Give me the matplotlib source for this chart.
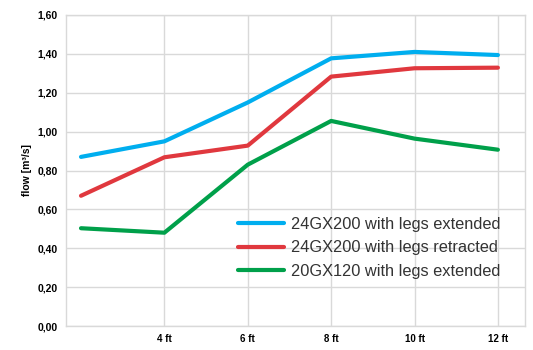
import matplotlib
matplotlib.use("Agg")
import matplotlib.pyplot as plt
from matplotlib.font_manager import FontProperties

x_ft = [2, 4, 6, 8, 10, 12]
blue_vals = [0.87, 0.95, 1.15, 1.377, 1.41, 1.394]
red_vals = [0.67, 0.868, 0.928, 1.283, 1.326, 1.329]
green_vals = [0.503, 0.48, 0.83, 1.055, 0.964, 0.907]
series_labels = ["24GX200 with legs extended", "24GX200 with legs retracted", "20GX120 with legs extended"]
x_ticks = [4, 6, 8, 10, 12]
x_tick_labels = ["4 ft", "6 ft", "8 ft", "10 ft", "12 ft"]
y_ticks = [0.0, 0.2, 0.4, 0.6, 0.8, 1.0, 1.2, 1.4, 1.6]
y_tick_labels = ["0,00", "0,20", "0,40", "0,60", "0,80", "1,00", "1,20", "1,40", "1,60"]

fig = plt.figure(figsize=(5.33, 3.5), dpi=100)
ax = fig.add_axes([66/533, 24/350, 459/533, 311/350])

colors = ["#00AEEF", "#E0383E", "#00A04A"]
for vals, c, lab in zip([blue_vals, red_vals, green_vals], colors, series_labels):
    ax.plot(x_ft, vals, color=c, lw=3.0, label=lab, solid_capstyle="round", solid_joinstyle="round")

ax.set_xlim(1.64, 12.65)
ax.set_ylim(0, 1.6)
ax.set_xticks(x_ticks)
ax.set_xticklabels(x_tick_labels, fontsize=7, fontweight="bold", family="Liberation Sans")
ax.set_yticks(y_ticks)
ax.set_yticklabels(y_tick_labels, fontsize=7.5, fontweight="bold", family="Liberation Sans")
ax.tick_params(length=0, pad=6)
ax.grid(True, color="#D9D9D9", lw=1.0)
ax.set_axisbelow(True)
for s in ax.spines.values():
    s.set_color("#D9D9D9")
    s.set_linewidth(1.0)
ax.set_ylabel("flow [m³/s]", fontsize=7.5, fontweight="bold", family="Liberation Sans", labelpad=4)

fp = FontProperties(family="Liberation Sans", size=11.8)
leg = ax.legend(loc="upper left", bbox_to_anchor=(0.36, 0.372), frameon=False, prop=fp,
                handlelength=2.8, handletextpad=0.45, labelspacing=0.52, borderaxespad=0)
for t in leg.get_texts():
    t.set_color("#333333")

fig.savefig("out.png", dpi=100)
